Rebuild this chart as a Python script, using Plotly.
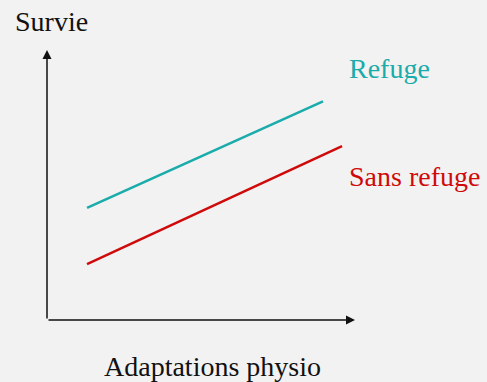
import plotly.graph_objects as go

# Data (arbitrary units, schematic chart)
x_refuge = [1.3, 8.96]
y_refuge = [4.15, 8.1]
x_sans = [1.3, 9.58]
y_sans = [2.07, 6.44]

series_names = ["Refuge", "Sans refuge"]
x_label = "Adaptations physio"
y_label = "Survie"

TEAL = "#1aabab"
RED = "#cf0a0a"
FONT = "Liberation Serif"

W, H = 487, 382
L, R, T, B = 47, 132, 50, 62
pw, ph = W - L - R, H - T - B

def px(xp):
    return (xp - L) / pw

def py(yp):
    return (H - B - yp) / ph

fig = go.Figure()
fig.add_trace(go.Scatter(x=x_refuge, y=y_refuge, mode="lines",
                         line=dict(color=TEAL, width=2.5), name=series_names[0]))
fig.add_trace(go.Scatter(x=x_sans, y=y_sans, mode="lines",
                         line=dict(color=RED, width=2.5), name=series_names[1]))

# axes arrows
fig.add_annotation(x=10, y=0, ax=0, ay=0, xref="x", yref="y", axref="x", ayref="y",
                   showarrow=True, arrowhead=2, arrowsize=1.2, arrowwidth=1.5,
                   arrowcolor="#111111", text="")
fig.add_annotation(x=0, y=10, ax=0, ay=0, xref="x", yref="y", axref="x", ayref="y",
                   showarrow=True, arrowhead=2, arrowsize=1.2, arrowwidth=1.5,
                   arrowcolor="#111111", text="")

def label(text, xp, yp, color):
    fig.add_annotation(x=px(xp), y=py(yp), xref="paper", yref="paper",
                       text=text, showarrow=False, xanchor="center", yanchor="middle",
                       font=dict(family=FONT, size=28, color=color))

label(y_label, 51, 21, "#111111")
label(x_label, 212, 366, "#111111")
label(series_names[0], 389, 68, TEAL)
label(series_names[1], 414, 176, RED)

fig.update_layout(
    width=W, height=H,
    margin=dict(l=L, r=R, t=T, b=B),
    paper_bgcolor="#f2f2f2", plot_bgcolor="#f2f2f2",
    showlegend=False,
    xaxis=dict(range=[0, 10], visible=False, fixedrange=True),
    yaxis=dict(range=[0, 10], visible=False, fixedrange=True),
)
fig.write_html("out.html", config={"displayModeBar": False},
               post_script="document.body.style.margin='0';document.body.style.overflow='hidden';")
